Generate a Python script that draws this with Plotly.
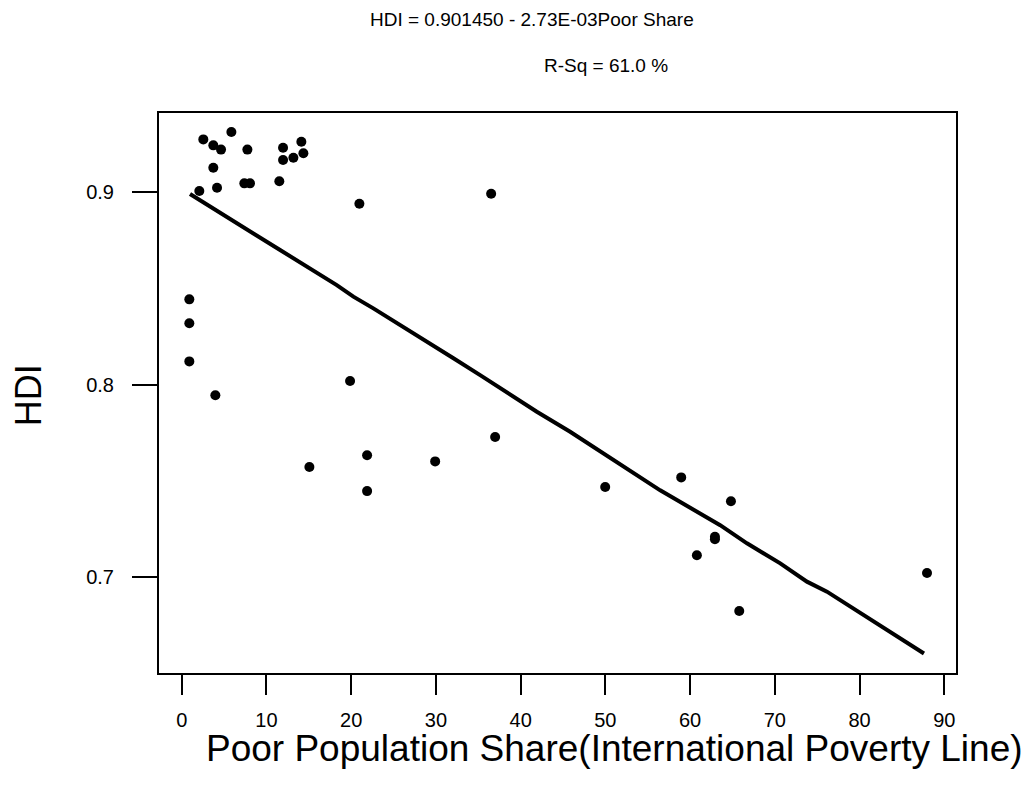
import plotly.graph_objects as go

# Data
poor_share = [2.55, 3.73, 4.64, 5.86, 7.75, 3.73, 4.17, 2.08, 7.39, 8.06,
              11.52, 11.96, 11.96, 13.18, 14.12, 14.36, 20.97, 36.52,
              0.9, 0.9, 0.9, 3.97, 19.87, 15.07, 21.88, 21.88, 29.91, 36.99,
              49.98, 58.95, 64.82, 62.93, 62.93, 60.80, 65.80, 87.96]
hdi = [0.9273, 0.9242, 0.9220, 0.9311, 0.9220, 0.9126, 0.9022, 0.9005, 0.9045, 0.9045,
       0.9056, 0.9230, 0.9166, 0.9178, 0.9261, 0.9201, 0.8939, 0.8991,
       0.8443, 0.8319, 0.8121, 0.7945, 0.8019, 0.7573, 0.7634, 0.7448, 0.7602, 0.7729,
       0.7469, 0.7519, 0.7395, 0.7211, 0.7198, 0.7115, 0.6826, 0.7023]

# Fitted line as drawn in the reference
fit_x = [0.98, 7.67, 11.61, 18.3, 20.26, 22.62, 26.16, 32.07, 35.22, 38.76, 41.91,
         45.84, 49.78, 56.47, 63.55, 66.71, 70.64, 73.79, 76.15, 80.87, 87.6]
fit_y = [0.8990, 0.8803, 0.8699, 0.8517, 0.8457, 0.8396, 0.8301, 0.8137, 0.8050,
         0.7947, 0.7860, 0.7756, 0.7644, 0.7452, 0.7271, 0.7177, 0.7073, 0.6978,
         0.6926, 0.6796, 0.6605]

x_ticks = [0, 10, 20, 30, 40, 50, 60, 70, 80, 90]
y_ticks = [0.7, 0.8, 0.9]

title_line1 = "HDI = 0.901450 - 2.73E-03Poor Share"
title_line2 = "R-Sq = 61.0 %"
x_title = "Poor Population Share(International Poverty Line)"
y_title = "HDI"

FONT = "Liberation Sans, Arial, sans-serif"

fig = go.Figure()
fig.add_trace(go.Scatter(x=fit_x, y=fit_y, mode="lines",
                         line=dict(color="black", width=4), hoverinfo="skip"))
fig.add_trace(go.Scatter(x=poor_share, y=hdi, mode="markers",
                         marker=dict(color="black", size=10)))

fig.update_layout(
    width=1028, height=794,
    margin=dict(l=159, r=72, t=113, b=121),
    paper_bgcolor="white", plot_bgcolor="white",
    showlegend=False,
    font=dict(family=FONT, color="black", size=20),
    xaxis=dict(range=[-2.68, 91.38], tickvals=x_ticks, ticks="outside", ticklen=20,
               tickwidth=1.5, tickcolor="black", showline=True, linewidth=2,
               linecolor="black", mirror=True, showgrid=False, zeroline=False,
               tickfont=dict(size=20), ticklabelstandoff=8),
    yaxis=dict(range=[0.6504, 0.941], tickvals=y_ticks, tickformat=".1f",
               ticks="outside", ticklen=25, tickwidth=1.5, tickcolor="black",
               showline=True, linewidth=2, linecolor="black", mirror=True,
               showgrid=False, zeroline=False, tickfont=dict(size=20),
               ticklabelstandoff=14),
    annotations=[
        dict(text=title_line1, xref="paper", yref="paper", x=0.2622, y=1.167,
             xanchor="left", yanchor="middle", showarrow=False, font=dict(size=19)),
        dict(text=title_line2, xref="paper", yref="paper", x=0.4806, y=1.0848,
             xanchor="left", yanchor="middle", showarrow=False, font=dict(size=19)),
        dict(text=x_title, xref="paper", yref="paper", x=0.571, y=-0.135,
             xanchor="center", yanchor="middle", showarrow=False, font=dict(size=37)),
        dict(text=y_title, xref="paper", yref="paper", x=-0.1644, y=0.496,
             xanchor="center", yanchor="middle", showarrow=False, textangle=-90,
             font=dict(size=36)),
    ],
)

fig.write_html(
    "out.html",
    config={"displayModeBar": False},
    post_script="document.body.style.margin='0px';document.body.style.overflow='hidden';",
)
